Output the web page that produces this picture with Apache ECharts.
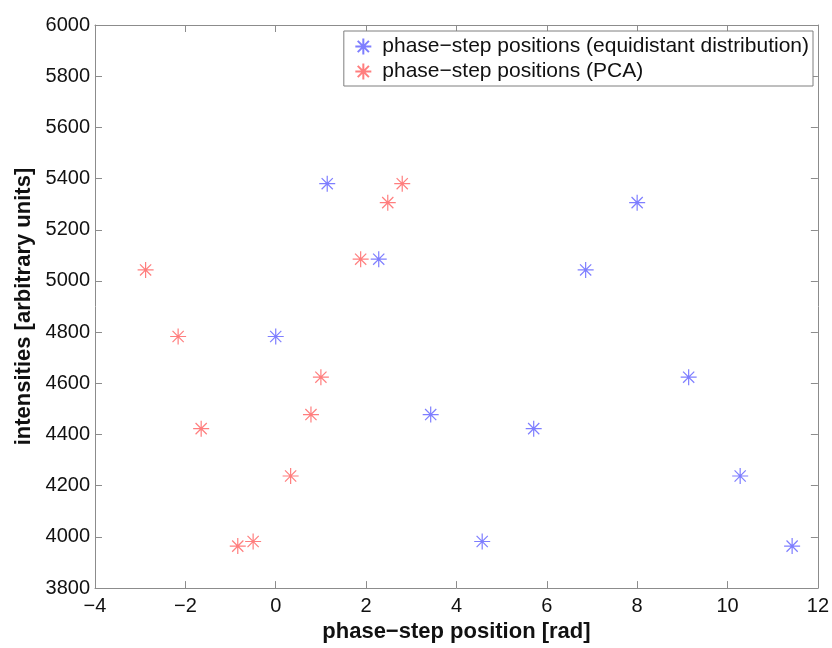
<!DOCTYPE html>
<html>
<head>
<meta charset="utf-8">
<script src="https://cdn.jsdelivr.net/npm/echarts@6/dist/echarts.min.js"></script>
<style>
  html, body { margin: 0; padding: 0; background: #fff; }
  #chart { width: 832px; height: 648px; }
</style>
</head>
<body>
<div id="chart"></div>
<script>
  // intensities measured at each phase step (same for both series)
  var intensities = [4783, 5380, 5085, 4478, 3982, 4423, 5043, 5306, 4624, 4238, 3964];
  // phase-step positions, equidistant distribution
  var phaseEqui = [0, 1.14, 2.28, 3.43, 4.57, 5.71, 6.86, 8.0, 9.14, 10.28, 11.43];
  // phase-step positions found by PCA
  var phasePca = [-2.16, 2.80, 1.88, 0.78, -0.50, -1.65, -2.88, 2.48, 1.00, 0.33, -0.84];
  var seriesNames = ['phase\u2212step positions (equidistant distribution)', 'phase\u2212step positions (PCA)'];

  var star = 'path://M5 0L5 10M0 5L10 5M1.5 1.5L8.5 8.5M8.5 1.5L1.5 8.5';
  var axisGray = '#8c8c8c';
  var font = 'Liberation Sans, Arial, sans-serif';

  function pairs(xs, ys) {
    var out = [];
    for (var i = 0; i < xs.length; i++) out.push([xs[i], ys[i]]);
    return out;
  }
  function minus(v) { return String(v).replace('-', '\u2212'); }

  var chart = echarts.init(document.getElementById('chart'));
  var tickStyle = { show: true, inside: true, length: 7, lineStyle: { color: axisGray } };
  var lineStyle = { show: true, onZero: false, lineStyle: { color: axisGray, width: 1 } };

  chart.setOption({
    animation: false,
    backgroundColor: '#fff',
    grid: { left: 95, right: 14, top: 25, bottom: 52 },
    legend: {
      orient: 'vertical',
      right: 19,
      top: 31,
      padding: [5, 4, 4, 9],
      itemGap: 4,
      itemWidth: 28,
      itemHeight: 16,
      backgroundColor: '#fff',
      borderColor: '#7f7f7f',
      borderWidth: 1,
      textStyle: { fontFamily: font, fontSize: 21, color: '#111' },
      data: seriesNames
    },
    xAxis: [{
      type: 'value', min: -4, max: 12, interval: 2,
      axisLine: lineStyle, axisTick: tickStyle, splitLine: { show: false },
      axisLabel: { fontFamily: font, fontSize: 20, color: '#111', margin: 8, formatter: minus },
      name: 'phase\u2212step position [rad]', nameLocation: 'middle', nameGap: 30,
      nameTextStyle: { fontFamily: font, fontSize: 22, fontWeight: 'bold', color: '#111' }
    }, {
      type: 'value', position: 'top', min: -4, max: 12, interval: 2,
      axisLine: lineStyle, axisTick: tickStyle, axisLabel: { show: false }, splitLine: { show: false }
    }],
    yAxis: [{
      type: 'value', min: 3800, max: 6000, interval: 200,
      axisLine: lineStyle, axisTick: tickStyle, splitLine: { show: false },
      axisLabel: { fontFamily: font, fontSize: 20, color: '#111', margin: 5, formatter: function (v) { return String(v); } },
      name: 'intensities [arbitrary units]', nameLocation: 'middle', nameGap: 51,
      nameTextStyle: { fontFamily: font, fontSize: 22, fontWeight: 'bold', color: '#111' }
    }, {
      type: 'value', position: 'right', min: 3800, max: 6000, interval: 200,
      axisLine: lineStyle, axisTick: tickStyle, axisLabel: { show: false }, splitLine: { show: false }
    }],
    series: [{
      name: seriesNames[0],
      type: 'scatter',
      symbol: star,
      symbolSize: 16,
      itemStyle: { color: 'none', borderColor: 'rgba(40,40,255,0.75)', borderWidth: 1.2 },
      data: pairs(phaseEqui, intensities)
    }, {
      name: seriesNames[1],
      type: 'scatter',
      symbol: star,
      symbolSize: 16,
      itemStyle: { color: 'none', borderColor: 'rgba(255,40,40,0.75)', borderWidth: 1.2 },
      data: pairs(phasePca, intensities)
    }]
  });
</script>
</body>
</html>
